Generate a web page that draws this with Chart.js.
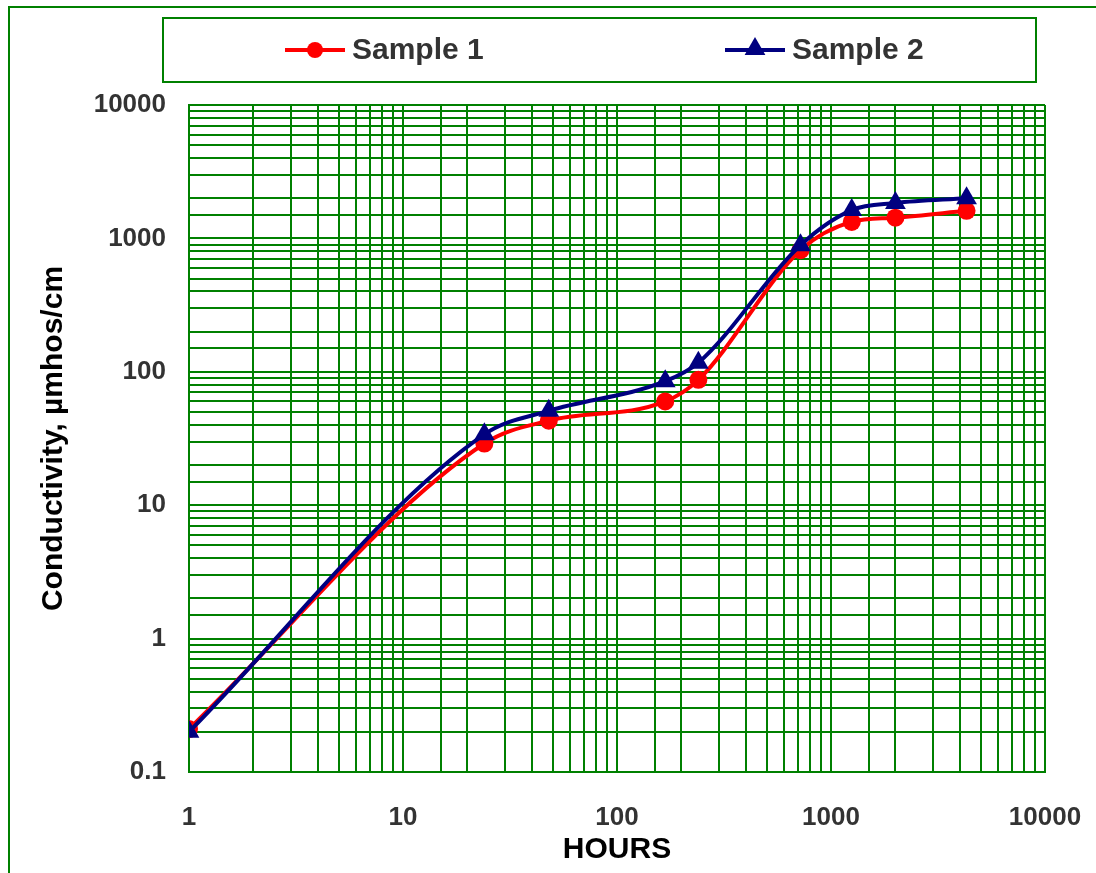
<!DOCTYPE html>
<html>
<head>
<meta charset="utf-8">
<script src="https://cdn.jsdelivr.net/npm/chart.js@4"></script>
<style>
  html, body { margin: 0; padding: 0; background: #fff; }
  canvas { display: block; }
</style>
</head>
<body>
<canvas id="cond" width="1096" height="873"></canvas>
<script>
let hours = [1, 24, 48, 168, 240, 720, 1250, 2000, 4300];

let sample1 = [0.21, 29, 43, 60, 87, 815, 1330, 1430, 1610];
let sample2 = [0.2, 34, 51, 85, 117, 890, 1630, 1840, 2000];

let seriesNames = ['Sample 1', 'Sample 2'];
let seriesColors = ['#ff0000', '#000080'];
let seriesMarkers = ['circle', 'triangle'];

const GREEN = '#008000';

function pairs(xs, ys) {
    return xs.map((x, i) => ({ x: x, y: ys[i] }));
}

function isDecade(v) {
    const l = Math.log10(v);
    return Math.abs(l - Math.round(l)) < 1e-9;
}

// green frame round the whole sheet (only top and left show)
const framePlugin = {
    id: 'frame',
    beforeDraw(chart) {
        const ctx = chart.ctx;
        ctx.save();
        ctx.fillStyle = '#fff';
        ctx.fillRect(0, 0, chart.width, chart.height);
        ctx.strokeStyle = GREEN;
        ctx.lineWidth = 2;
        ctx.beginPath();
        ctx.moveTo(9, chart.height);
        ctx.lineTo(9, 7);
        ctx.lineTo(chart.width, 7);
        ctx.stroke();
        ctx.restore();
    }
};

function marker(ctx, style, x, y, r) {
    ctx.beginPath();
    if (style === 'circle') {
        ctx.arc(x, y, r, 0, Math.PI * 2);
    } else {
        ctx.moveTo(x, y - r);
        ctx.lineTo(x + r * Math.sin(Math.PI / 3), y + r / 2);
        ctx.lineTo(x - r * Math.sin(Math.PI / 3), y + r / 2);
        ctx.closePath();
    }
    ctx.fill();
}

// boxed legend with line + marker samples
const boxLegend = {
    id: 'boxLegend',
    afterDraw(chart) {
        const ctx = chart.ctx;
        ctx.save();
        ctx.strokeStyle = GREEN;
        ctx.lineWidth = 2;
        ctx.strokeRect(163, 18, 873, 64);
        const starts = [285, 725];
        chart.data.datasets.forEach((ds, i) => {
            const x0 = starts[i], y = 50;
            ctx.strokeStyle = ds.borderColor;
            ctx.fillStyle = ds.borderColor;
            ctx.lineWidth = 4;
            ctx.beginPath();
            ctx.moveTo(x0, y);
            ctx.lineTo(x0 + 60, y);
            ctx.stroke();
            marker(ctx, ds.pointStyle, x0 + 30, i === 1 ? y - 1 : y, i === 1 ? 12 : 8);
            ctx.fillStyle = '#333';
            ctx.font = 'bold 30px "Liberation Sans", Arial, sans-serif';
            ctx.textBaseline = 'middle';
            ctx.textAlign = 'left';
            ctx.fillText(ds.label, x0 + 67, y + 1);
        });
        ctx.restore();
    }
};

const datasets = [sample1, sample2].map((vals, i) => ({
    label: seriesNames[i],
    data: pairs(hours, vals),
    borderColor: seriesColors[i],
    backgroundColor: seriesColors[i],
    borderWidth: 4,
    pointStyle: seriesMarkers[i],
    pointRadius: i === 1 ? 12 : 9,
    pointBorderWidth: 0,
    cubicInterpolationMode: 'monotone',
    order: 2 - i
}));

const tickFont = { family: '"Liberation Sans", Arial, sans-serif', size: 26, weight: 'bold' };
const titleFont = { family: '"Liberation Sans", Arial, sans-serif', size: 30, weight: 'bold' };

const config = {
    type: 'line',
    data: { datasets: datasets },
    options: {
        responsive: false,
        animation: false,
        devicePixelRatio: 1,
        layout: { padding: { top: 105, left: 28, right: 51, bottom: 0 } },
        plugins: {
            legend: { display: false },
            tooltip: { enabled: false }
        },
        scales: {
            x: {
                type: 'logarithmic',
                min: 1,
                max: 10000,
                border: { color: GREEN, width: 2 },
                grid: { color: GREEN, lineWidth: 2, drawTicks: false },
                ticks: {
                    autoSkip: false,
                    maxRotation: 0,
                    padding: 30,
                    color: '#333',
                    font: tickFont,
                    callback: v => isDecade(v) ? String(v) : ''
                },
                title: {
                    display: true,
                    text: 'HOURS',
                    color: '#000',
                    font: titleFont,
                    padding: { top: 0, bottom: 5 }
                },
                afterFit: s => {
                    s.height = 101;
                    s.paddingLeft = 0;
                    s.paddingRight = 0;
                }
            },
            y: {
                type: 'logarithmic',
                min: 0.1,
                max: 10000,
                border: { color: GREEN, width: 2 },
                grid: { color: GREEN, lineWidth: 2, drawTicks: false },
                ticks: {
                    autoSkip: false,
                    padding: 23,
                    color: '#333',
                    font: tickFont,
                    callback: v => isDecade(v) ? String(v) : ''
                },
                title: {
                    display: true,
                    text: 'Conductivity, µmhos/cm',
                    color: '#000',
                    font: titleFont,
                    padding: { top: 8, bottom: 0 }
                },
                afterFit: s => {
                    s.width = 189 - 28;
                    s.paddingTop = 0;
                    s.paddingBottom = 0;
                }
            }
        }
    },
    plugins: [framePlugin, boxLegend]
};

const chart = new Chart(document.getElementById('cond'), config);
</script>
</body>
</html>
